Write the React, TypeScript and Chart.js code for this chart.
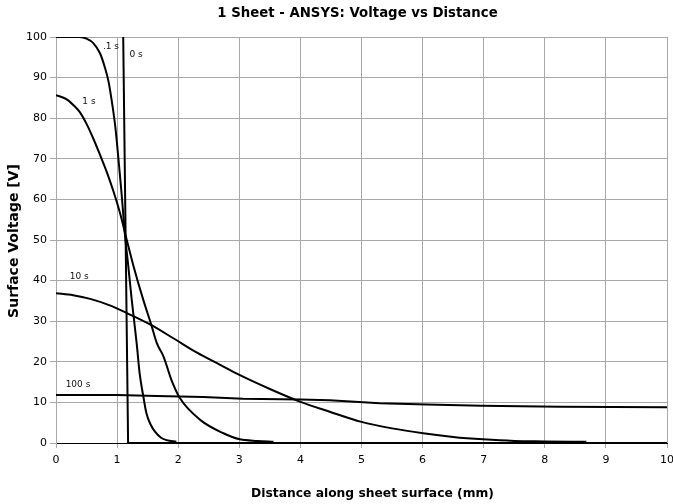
import { useEffect, useRef } from "react";
import { Chart, registerables } from "chart.js";

Chart.register(...registerables);

const TITLE = "1 Sheet - ANSYS: Voltage vs Distance";
const X_TITLE = "Distance along sheet surface (mm)";
const Y_TITLE = "Surface Voltage [V]";

const X_MIN = 0;
const X_MAX = 10;
const X_STEP = 1;
const Y_MIN = 0;
const Y_MAX = 100;
const Y_STEP = 10;

const SERIES_NAMES = ["0 s", ".1 s", "1 s", "10 s", "100 s"];

// 0 s
const t0Dist = [1.1, 1.18, 10];
const t0Volt = [100, 0, 0];

// .1 s
const t01Dist = [0, 0.39, 0.5, 0.61, 0.72, 0.8, 0.86, 0.91, 0.97, 1.0, 1.04, 1.07, 1.1, 1.13, 1.18, 1.24, 1.32, 1.37, 1.43, 1.48, 1.55, 1.62, 1.72, 1.81, 1.97];
const t01Volt = [100, 100, 99.6, 98.5, 96, 92.5, 89, 84.5, 78, 73.5, 67, 62, 56.5, 51, 44, 35.2, 24.6, 17, 11.4, 7.3, 4.5, 2.8, 1.3, 0.7, 0.3];

// 1 s
const t1Dist = [0, 0.17, 0.3, 0.39, 0.5, 0.61, 0.72, 0.83, 0.94, 1.05, 1.15, 1.27, 1.43, 1.56, 1.65, 1.76, 1.89, 2.03, 2.36, 2.74, 3.01, 3.3, 3.56];
const t1Volt = [85.7, 84.7, 83, 81.5, 78.6, 75, 71, 66.8, 62, 56.5, 50.5, 43.5, 35.2, 29.1, 24.6, 21.3, 15.5, 11, 5.7, 2.4, 0.9, 0.5, 0.3];

// 10 s
const t10Dist = [0, 0.28, 0.56, 0.88, 1.16, 1.54, 1.92, 2.3, 2.68, 3.01, 3.5, 3.99, 4.48, 5.0, 5.5, 6.01, 6.5, 6.99, 7.5, 8.0, 8.68];
const t10Volt = [36.9, 36.4, 35.5, 33.9, 32, 29.2, 25.8, 22.3, 19.3, 16.7, 13.3, 10.2, 7.7, 5.2, 3.6, 2.4, 1.5, 0.9, 0.5, 0.4, 0.3];

// 100 s
const t100Dist = [0, 1, 1.65, 2.41, 3.06, 4, 4.48, 5.3, 6.07, 6.97, 8.25, 10];
const t100Volt = [11.8, 11.8, 11.6, 11.3, 10.9, 10.7, 10.5, 9.8, 9.5, 9.2, 8.9, 8.8];

// curve label anchors (data units)
const LABEL_X = [1.31, 0.9, 0.54, 0.38, 0.36];
const LABEL_Y = [95.6, 97.5, 84, 40.9, 14.3];

const FONT = "'DejaVu Sans', sans-serif";

function toPoints(xs: number[], ys: number[]) {
  return xs.map((x, i) => ({ x, y: ys[i] }));
}

const curveLabels = {
  id: "curveLabels",
  afterDatasetsDraw(chart: any) {
    const { ctx, scales } = chart;
    const xs = scales.x;
    const ys = scales.y;
    ctx.save();
    ctx.font = `9px ${FONT}`;
    ctx.fillStyle = "#111";
    ctx.textAlign = "center";
    ctx.textBaseline = "middle";
    SERIES_NAMES.forEach((name, i) => {
      ctx.fillText(name, xs.getPixelForValue(LABEL_X[i]), ys.getPixelForValue(LABEL_Y[i]));
    });
    ctx.restore();
  },
};

const chartTexts = {
  id: "chartTexts",
  afterDraw(chart: any) {
    const { ctx, chartArea } = chart;
    const cx = (chartArea.left + chartArea.right) / 2;
    const cy = (chartArea.top + chartArea.bottom) / 2;
    ctx.save();
    ctx.fillStyle = "#000";
    ctx.textAlign = "center";
    ctx.textBaseline = "alphabetic";
    ctx.font = `bold 13.3px ${FONT}`;
    ctx.fillText(TITLE, cx - 4, 17);
    ctx.font = `bold 12.3px ${FONT}`;
    ctx.fillText(X_TITLE, cx + 11, 497);
    ctx.translate(18, cy + 1);
    ctx.rotate(-Math.PI / 2);
    ctx.font = `bold 14px ${FONT}`;
    ctx.fillText(Y_TITLE, 0, 0);
    ctx.restore();
  },
};

export default function App() {
  const ref = useRef<HTMLCanvasElement>(null);

  useEffect(() => {
    if (!ref.current) return;
    const series = [
      { name: SERIES_NAMES[0], pts: toPoints(t0Dist, t0Volt), smooth: false },
      { name: SERIES_NAMES[1], pts: toPoints(t01Dist, t01Volt), smooth: true },
      { name: SERIES_NAMES[2], pts: toPoints(t1Dist, t1Volt), smooth: true },
      { name: SERIES_NAMES[3], pts: toPoints(t10Dist, t10Volt), smooth: true },
      { name: SERIES_NAMES[4], pts: toPoints(t100Dist, t100Volt), smooth: false },
    ];
    const chart = new Chart(ref.current, {
      type: "line",
      data: {
        datasets: series.map((s) => ({
          label: s.name,
          data: s.pts,
          borderColor: "#000",
          backgroundColor: "#000",
          borderWidth: 2,
          pointRadius: 0,
          fill: false,
          cubicInterpolationMode: s.smooth ? "monotone" : "default",
          tension: 0,
        })),
      },
      options: {
        animation: false,
        responsive: false,
        parsing: false as any,
        layout: { padding: { left: 0, right: 6, top: 37, bottom: 0 } },
        plugins: {
          legend: { display: false },
          tooltip: { enabled: false },
          title: { display: false },
        },
        scales: {
          x: {
            type: "linear",
            min: X_MIN,
            max: X_MAX,
            afterFit: (scale: any) => {
              scale.height = 61;
              scale.paddingLeft = 0;
              scale.paddingRight = 0;
            },
            ticks: {
              stepSize: X_STEP,
              color: "#000",
              font: { family: FONT, size: 11 },
              padding: 6,
              maxRotation: 0,
            },
            grid: { color: "#a8a8a8", lineWidth: 1, tickLength: 5, tickColor: "#a8a8a8" },
            border: { color: "#000", width: 1 },
          },
          y: {
            type: "linear",
            min: Y_MIN,
            max: Y_MAX,
            afterFit: (scale: any) => {
              scale.width = 56;
              scale.paddingTop = 0;
              scale.paddingBottom = 0;
            },
            ticks: {
              stepSize: Y_STEP,
              color: "#000",
              font: { family: FONT, size: 11 },
              padding: 3,
            },
            grid: { color: "#a8a8a8", lineWidth: 1, tickLength: 6, tickColor: "#a8a8a8" },
            border: { color: "#a8a8a8", width: 1 },
          },
        },
      },
      plugins: [curveLabels, chartTexts],
    });
    return () => chart.destroy();
  }, []);

  return (
    <div style={{ position: "fixed", left: 0, top: 0, width: 673, height: 504, background: "#fff" }}>
      <canvas ref={ref} width={673} height={504} style={{ display: "block" }} />
    </div>
  );
}
